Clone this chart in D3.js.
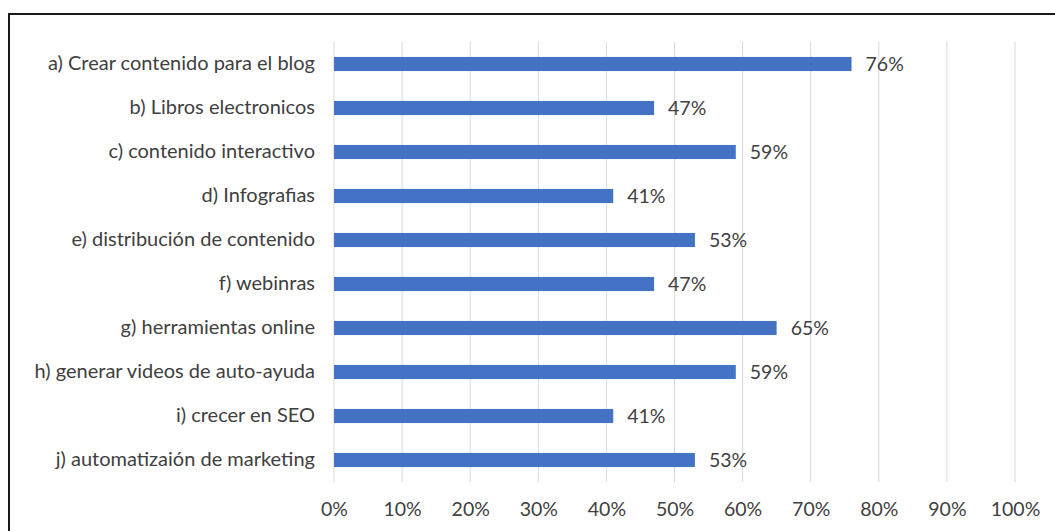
<!DOCTYPE html>
<html>
<head>
<meta charset="utf-8">
<script src="https://cdn.jsdelivr.net/npm/d3@7"></script>
<style>
  html, body { margin: 0; padding: 0; background: #fff; }
  svg { display: block; font-family: Lato, "Liberation Sans", sans-serif; }
</style>
</head>
<body>
<svg id="chart" width="1055" height="531"></svg>
<script>
// Categories (top to bottom) and their shares
const categories = [
  "a) Crear contenido para el blog",
  "b) Libros electronicos",
  "c) contenido interactivo",
  "d) Infografias",
  "e) distribución de contenido",
  "f) webinras",
  "g) herramientas online",
  "h) generar videos de auto-ayuda",
  "i) crecer en SEO",
  "j) automatizaión de marketing"
];
const values = [0.76, 0.47, 0.59, 0.41, 0.53, 0.47, 0.65, 0.59, 0.41, 0.53];
const tickValues = [0, 0.1, 0.2, 0.3, 0.4, 0.5, 0.6, 0.7, 0.8, 0.9, 1.0];

const svg = d3.select("#chart");
const W = 1055, H = 531;
const plot = { left: 334, right: 1015, top: 42, bottom: 482 };
const textColor = "#404040";

// Frame around the chart area
svg.append("rect")
  .attr("x", 9).attr("y", 14)
  .attr("width", W + 20).attr("height", H + 20)
  .attr("fill", "#fff")
  .attr("stroke", "#1a1a1a").attr("stroke-width", 2);

const x = d3.scaleLinear().domain([0, 1]).range([plot.left, plot.right]);
const y = d3.scaleBand().domain(categories).range([plot.top, plot.bottom]).paddingInner(0.68).paddingOuter(0.34);

// Vertical gridlines
svg.append("g")
  .selectAll("line")
  .data(tickValues)
  .join("line")
  .attr("x1", d => x(d)).attr("x2", d => x(d))
  .attr("y1", plot.top).attr("y2", plot.bottom)
  .attr("stroke", "#d9d9d9").attr("stroke-width", 1);

// Bottom axis labels
const xAxis = d3.axisBottom(x).tickValues(tickValues).tickFormat(d3.format(".0%")).tickSize(0).tickPadding(0);
const gx = svg.append("g").attr("transform", `translate(0,${plot.bottom + 20})`).call(xAxis);
gx.select(".domain").remove();
gx.selectAll("text").attr("font-size", 19.5).attr("fill", textColor).attr("font-family", "Lato, sans-serif");

// Category labels
const yAxis = d3.axisLeft(y).tickSize(0).tickPadding(0);
const gy = svg.append("g").attr("transform", `translate(${plot.left - 19},0)`).call(yAxis);
gy.select(".domain").remove();
gy.selectAll("text").attr("font-size", 20).attr("fill", textColor).attr("font-family", "Lato, sans-serif");

// Bars
svg.append("g")
  .selectAll("rect")
  .data(values)
  .join("rect")
  .attr("x", x(0))
  .attr("y", (d, i) => y(categories[i]))
  .attr("width", d => x(d) - x(0))
  .attr("height", y.bandwidth())
  .attr("fill", "#4472c4");

// Value labels
svg.append("g")
  .selectAll("text")
  .data(values)
  .join("text")
  .attr("x", d => x(d) + 14)
  .attr("y", (d, i) => y(categories[i]) + y.bandwidth() / 2)
  .attr("dy", "0.35em")
  .attr("font-size", 19.5)
  .attr("fill", textColor)
  .text(d => d3.format(".0%")(d));
</script>
</body>
</html>
